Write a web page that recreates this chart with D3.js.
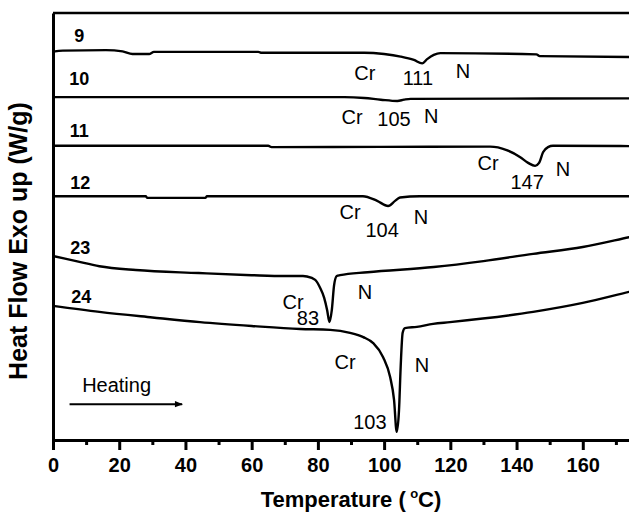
<!DOCTYPE html>
<html>
<head>
<meta charset="utf-8">
<script src="https://cdn.jsdelivr.net/npm/d3@7"></script>
<style>
  html, body { margin: 0; padding: 0; background: #fff; }
  svg { display: block; font-family: Arial, "Liberation Sans", sans-serif; }
</style>
</head>
<body>
<div id="chart"></div>
<script>
// DSC heating traces, [temperature (°C), heat flow offset (a.u.)]
const sampleNames = ["9", "10", "11", "12", "23", "24"];

const curve9 = [[0, 9.06], [0.6, 9.10], [3, 9.12], [16, 9.13], [21, 9.10], [24, 9.04], [29, 9.04],
    [30.5, 9.09], [62, 9.09], [63, 9.07], [94, 9.07], [100, 9.04], [105, 8.98], [109, 8.90],
    [111.5, 8.82], [113, 8.92], [115, 9.02], [117, 9.06], [146, 9.03], [147, 8.99], [175, 8.97], [180, 8.97]];

const curve10 = [[0, 8.03], [88, 8.03], [94, 8.01], [99, 7.97], [104, 7.94], [106, 7.97],
    [108, 7.99], [180, 8.00]];

const curve11 = [[0, 6.89], [65, 6.89], [66, 6.86], [132, 6.87], [137, 6.79], [141, 6.63],
    [143.5, 6.49], [145.6, 6.42], [146.8, 6.49], [148, 6.74], [149.5, 6.86], [151, 6.89], [180, 6.88]];

const curve12 = [[0, 5.71], [28, 5.71], [28.5, 5.67], [46, 5.67], [46.5, 5.71], [93.6, 5.71],
    [97.9, 5.60], [101.2, 5.48], [103.3, 5.60], [104.8, 5.68], [110.8, 5.71], [180, 5.71]];

const curve23 = [[0, 4.31], [7, 4.19], [14, 4.07], [25, 3.98], [44, 3.91], [60, 3.86], [70, 3.84],
    [75.5, 3.84], [76.7, 3.83], [79.2, 3.75], [80.7, 3.56], [81.9, 3.33], [82.8, 3.04], [83.5, 2.76],
    [84.2, 3.04], [84.9, 3.63], [85.7, 3.84], [86.7, 3.86], [95, 3.93], [115, 4.05], [130, 4.19],
    [145, 4.36], [160, 4.52], [174, 4.75], [180, 4.85]];

const curve24 = [[0, 3.14], [14, 3.00], [30, 2.87], [44.4, 2.76], [60, 2.67], [74.6, 2.60],
    [83.7, 2.58], [89.7, 2.51], [93.7, 2.41], [96.7, 2.27], [99.7, 1.94], [101.8, 1.48], [103, 0.94],
    [103.8, 0.19], [104.5, 0.70], [105, 1.71], [105.6, 2.51], [106.3, 2.62], [109.9, 2.65],
    [114.8, 2.72], [119.9, 2.76], [145, 3.00], [160, 3.21], [174, 3.47], [180, 3.58]];

const curves = [curve9, curve10, curve11, curve12, curve23, curve24];

// transition peak temperatures and where the labels sit (data units)
const peakTemps = ["111", "105", "147", "104", "83", "103"];
const namePos = [[7.9, 9.46], [7.9, 8.45], [7.9, 7.24], [8.2, 6.02], [8.2, 4.50], [8.5, 3.35]];
const crPos = [[94.2, 8.59], [90.3, 7.56], [131.4, 6.49], [89.7, 5.34], [72.5, 3.23], [88.2, 1.83]];
const peakPos = [[110.2, 8.48], [103.0, 7.52], [143.2, 6.04], [99.4, 4.92], [77.0, 2.86], [95.7, 0.42]];
const nPos = [[123.8, 8.64], [114.2, 7.59], [154.0, 6.35], [111.1, 5.22], [94.2, 3.47], [111.4, 1.76]];

const majorTicks = [0, 20, 40, 60, 80, 100, 120, 140, 160];
const minorTicks = [10, 30, 50, 70, 90, 110, 130, 150, 170];

const width = 629, height = 513;
const margin = { top: 13, right: -20, bottom: 73, left: 53 };

const x = d3.scaleLinear().domain([0, 180]).range([margin.left, width - margin.right]);
const y = d3.scaleLinear().domain([0, 10]).range([height - margin.bottom, margin.top]);

const svg = d3.select("#chart").append("svg")
    .attr("width", width)
    .attr("height", height);

svg.append("defs").append("marker")
    .attr("id", "head")
    .attr("viewBox", "0 0 10 10")
    .attr("refX", 9).attr("refY", 5)
    .attr("markerWidth", 6).attr("markerHeight", 4)
    .attr("markerUnits", "strokeWidth")
    .attr("orient", "auto")
    .append("path").attr("d", "M0,1 L10,5 L0,9 Z").attr("fill", "#000");

const line = d3.line()
    .x(d => x(d[0]))
    .y(d => y(d[1]))
    .curve(d3.curveMonotoneX);

svg.append("g")
    .selectAll("path")
    .data(curves)
    .join("path")
    .attr("d", line)
    .attr("fill", "none")
    .attr("stroke", "#000")
    .attr("stroke-width", 2.4)
    .attr("stroke-linejoin", "round");

// frame top
svg.append("line")
    .attr("x1", x(0)).attr("x2", x(180))
    .attr("y1", y(10)).attr("y2", y(10))
    .attr("stroke", "#000").attr("stroke-width", 2.6);

// bottom axis with major and minor ticks
const xAxis = svg.append("g")
    .attr("transform", `translate(0,${y(0)})`)
    .call(d3.axisBottom(x).tickValues(majorTicks).tickSize(10).tickSizeOuter(0).tickPadding(8));
xAxis.select(".domain").attr("stroke-width", 3);
xAxis.selectAll(".tick line").attr("stroke-width", 3);
xAxis.selectAll(".tick text")
    .attr("font-family", "Arial, 'Liberation Sans', sans-serif")
    .attr("font-size", 20)
    .attr("font-weight", "bold")
    .attr("fill", "#000");

const minor = svg.append("g")
    .attr("transform", `translate(0,${y(0)})`)
    .call(d3.axisBottom(x).tickValues(minorTicks).tickSize(5).tickFormat(""));
minor.select(".domain").remove();
minor.selectAll(".tick line").attr("stroke-width", 3);

const yAxis = svg.append("g")
    .attr("transform", `translate(${x(0)},0)`)
    .call(d3.axisLeft(y).tickValues([]).tickSizeOuter(0));
yAxis.select(".domain").attr("stroke-width", 3);

// sample numbers
svg.append("g")
    .selectAll("text")
    .data(sampleNames)
    .join("text")
    .attr("x", (d, i) => x(namePos[i][0]))
    .attr("y", (d, i) => y(namePos[i][1]))
    .attr("text-anchor", "middle")
    .attr("dominant-baseline", "central")
    .attr("font-size", 18)
    .attr("font-weight", "bold")
    .text(d => d);

// phase labels
function addLabels(texts, pos) {
    svg.append("g")
        .selectAll("text")
        .data(texts)
        .join("text")
        .attr("x", (d, i) => x(pos[i][0]))
        .attr("y", (d, i) => y(pos[i][1]))
        .attr("text-anchor", "middle")
        .attr("dominant-baseline", "central")
        .attr("font-size", 20)
        .text(d => d);
}
addLabels(peakTemps.map(() => "Cr"), crPos);
addLabels(peakTemps, peakPos);
addLabels(peakTemps.map(() => "N"), nPos);

// heating arrow
svg.append("text")
    .attr("x", x(8.8))
    .attr("y", y(1.12))
    .attr("font-size", 20)
    .text("Heating");

svg.append("line")
    .attr("x1", x(5)).attr("x2", x(39))
    .attr("y1", y(0.84)).attr("y2", y(0.84))
    .attr("stroke", "#000").attr("stroke-width", 2)
    .attr("marker-end", "url(#head)");

// axis titles
const xTitle = svg.append("text")
    .attr("x", (x(0) + x(180)) / 2)
    .attr("y", 507)
    .attr("text-anchor", "middle")
    .attr("font-size", 22)
    .attr("font-weight", "bold");
xTitle.append("tspan").text("Temperature (\u2009");
xTitle.append("tspan").attr("font-size", 13).attr("dy", -9).text("o");
xTitle.append("tspan").attr("dy", 9).text("C)");

svg.append("text")
    .attr("transform", "translate(27,241) rotate(-90)")
    .attr("text-anchor", "middle")
    .attr("font-size", 25)
    .attr("font-weight", "bold")
    .text("Heat Flow Exo up (W/g)");
</script>
</body>
</html>
